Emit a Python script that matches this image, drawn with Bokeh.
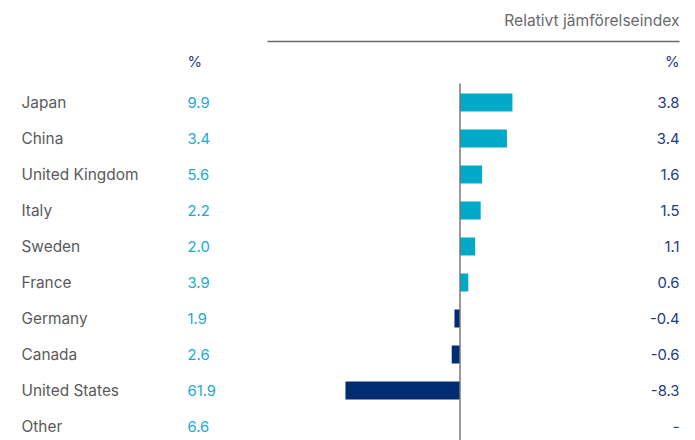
from bokeh.plotting import figure
from bokeh.models import Range1d, ColumnDataSource
from bokeh.embed import file_html
from bokeh.resources import INLINE
from bokeh.core.properties import value

countries = ["Japan", "China", "United Kingdom", "Italy", "Sweden", "France",
             "Germany", "Canada", "United States", "Other"]
weights = ["9.9", "3.4", "5.6", "2.2", "2.0", "3.9", "1.9", "2.6", "61.9", "6.6"]
relative = [3.8, 3.4, 1.6, 1.5, 1.1, 0.6, -0.4, -0.6, -8.3, None]
relative_labels = ["3.8", "3.4", "1.6", "1.5", "1.1", "0.6", "-0.4", "-0.6", "-8.3", "-"]
header_title = "Relativt jämförelseindex"

W, H = 695, 440
ZERO_PX = 459.5      # px of zero line
UNIT_PX = 13.8       # px per index unit
ROW0_PX = 102.0      # px (from top) of first row centre
ROW_PX = 36.0

def xd(px):
    return (px - ZERO_PX) / UNIT_PX

def yd(px):
    return (px - ROW0_PX) / ROW_PX

p = figure(width=W, height=H, output_backend="svg", toolbar_location=None,
           x_range=Range1d(xd(0), xd(W)), y_range=Range1d(yd(H), yd(0)),
           min_border=0, min_border_left=0, min_border_right=0,
           min_border_top=0, min_border_bottom=0)
p.axis.visible = False
p.grid.visible = False
p.outline_line_color = None
p.background_fill_color = "white"
p.border_fill_color = "white"

rows = list(range(len(countries)))
vals = [v if v is not None else 0 for v in relative]
colors = ["#00a9c8" if v >= 0 else "#002c72" for v in vals]
src = ColumnDataSource(dict(y=rows[:9], right=vals[:9], color=colors[:9]))
p.hbar(y="y", left=0, right="right", height=18 / ROW_PX, fill_color="color",
       line_color=None, source=src)

# zero line
p.segment(x0=[0], y0=[yd(83)], x1=[0], y1=[yd(H + 5)],
          line_color="#777777", line_width=1.5)

font = value("Inter")

# country names
p.text(x=[xd(21)] * len(countries), y=rows, text=countries,
       text_font=font, text_font_size="15.4px", text_color="#5a5a5a",
       text_align="left", text_baseline="middle")
# weights
p.text(x=[xd(187)] * len(weights), y=rows, text=weights,
       text_font=font, text_font_size="14.8px", text_color="#1aaad4",
       text_align="left", text_baseline="middle")
# relative labels
p.text(x=[xd(679)] * len(relative_labels), y=rows, text=relative_labels,
       text_font=font, text_font_size="14.8px", text_color="#1d3a84",
       text_align="right", text_baseline="middle")

# headers
p.text(x=[xd(187)], y=[yd(61)], text=["%"], text_font=font,
       text_font_size="14.8px", text_color="#1d3a84",
       text_align="left", text_baseline="middle")
p.text(x=[xd(679)], y=[yd(61)], text=["%"], text_font=font,
       text_font_size="14.8px", text_color="#1d3a84",
       text_align="right", text_baseline="middle")
p.text(x=[xd(679)], y=[yd(20)], text=[header_title], text_font=font,
       text_font_size="15.6px", text_color="#6a6a6a",
       text_align="right", text_baseline="middle")
p.segment(x0=[xd(267)], y0=[yd(41)], x1=[xd(679)], y1=[yd(41)],
          line_color="#6a6a6a", line_width=1.5)

open("out.html", "w").write(file_html(p, INLINE))
